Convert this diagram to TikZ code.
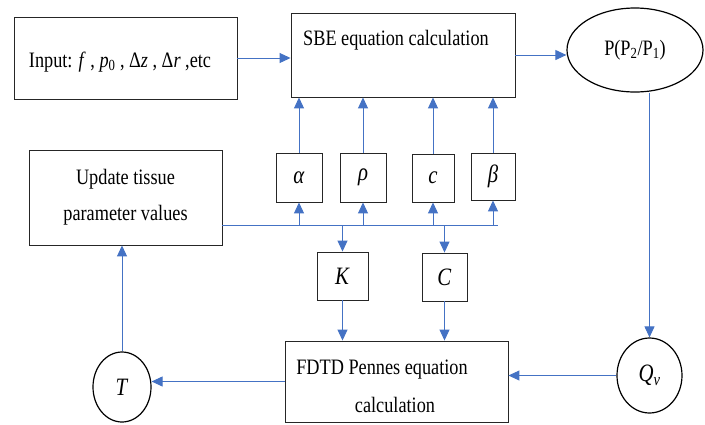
\documentclass[tikz,border=0pt]{standalone}
\usepackage{fontspec}
\setmainfont{Liberation Serif}[FakeStretch=0.83]
\usetikzlibrary{arrows.meta,shapes.geometric}
\definecolor{flow}{RGB}{68,114,196}
\begin{document}
\begin{tikzpicture}[x=1pt,y=-1pt,
  box/.style={draw=black!85,line width=0.9pt,inner sep=0pt,font=\fontsize{22}{36}\selectfont},
  sym/.style={box,font=\fontsize{25}{30}\selectfont},
  oval/.style={draw=black,line width=1.2pt,ellipse,inner sep=0pt,font=\fontsize{22}{26}\selectfont},
  txt/.style={inner sep=0pt,font=\fontsize{22}{36}\selectfont},
  arr/.style={draw=flow,line width=1pt,-{Triangle[length=11pt,width=10pt]}},
  ln/.style={draw=flow,line width=1pt}]
\useasboundingbox (0,0) rectangle (705,424);
% main boxes
\node[box,minimum width=223pt,minimum height=82pt] (inp) at (125.5,58) {};
\node[txt] (inptxt) at (120,62) {Input: \textit{f} , \textit{p}\textsubscript{0} , Δ\textit{z} , Δ\textit{r} ,etc};
\node[box,minimum width=224pt,minimum height=84pt] (sbe) at (403,55) {};
\node[txt] (sbetxt) at (396,40) {SBE equation calculation};
\node[oval,minimum width=136pt,minimum height=84pt] (pp) at (635,50) {P(P\textsubscript{2}/P\textsubscript{1})};
\node[box,minimum width=193pt,minimum height=95pt,align=center] (upd) at (125.5,197.5) {Update tissue\\parameter values};
% parameter boxes
\node[sym,minimum width=46pt,minimum height=49pt] (al) at (299,177.5) {\textit{α}};
\node[sym,minimum width=46pt,minimum height=49pt] (rh) at (363,177.5) {\textit{ρ}};
\node[sym,minimum width=42pt,minimum height=48pt] (cc) at (433,178) {\textit{c}};
\node[sym,minimum width=44pt,minimum height=47pt] (be) at (493,176.5) {\textit{β}};
\node[sym,minimum width=51pt,minimum height=48pt] (kk) at (342.5,276) {\textit{K}};
\node[sym,minimum width=45pt,minimum height=48pt] (cap) at (444.5,277) {\textit{C}};
% bottom row
\node[box,minimum width=223pt,minimum height=81pt] (fd) at (396.5,381.5) {};
\node[txt] (fdt1) at (382,370) {FDTD Pennes equation};
\node[txt] (fdt2) at (395,405) {calculation};
\node[oval,minimum width=58pt,minimum height=70pt,font=\fontsize{25}{30}\selectfont] (tt) at (122,387) {\textit{T}};
\node[oval,minimum width=65pt,minimum height=75pt,font=\fontsize{25}{30}\selectfont] (qv) at (649.5,375.5) {\textit{Q}\textsubscript{\textit{v}}};
% connectors
\draw[arr] (inp.east) -- (inp.east -| sbe.west);
\draw[arr] (sbe.east) -- (sbe.east -| pp.west);
\draw[arr] (qv.north |- pp.south) -- (qv.north);
\draw[arr] (qv.west) -- (qv.west -| fd.east);
\draw[arr] (fd.west) -- (fd.west -| tt.east);
\draw[arr] (tt.north) -- (tt.north |- upd.south);
\coordinate (b0) at (222,225);
\coordinate (b1) at (498,225);
\draw[ln] (b0) -- (b1);
\foreach \n in {al,rh,cc,be}{
  \draw[arr] (\n.south |- b0) -- (\n.south);
  \draw[arr] (\n.north) -- (\n.north |- sbe.south);
}
\draw[arr] (kk.north |- b0) -- (kk.north);
\draw[arr] (cap.north |- b0) -- (cap.north);
\draw[arr] (kk.south) -- (kk.south |- fd.north);
\draw[arr] (cap.south) -- (cap.south |- fd.north);
\end{tikzpicture}
\end{document}
